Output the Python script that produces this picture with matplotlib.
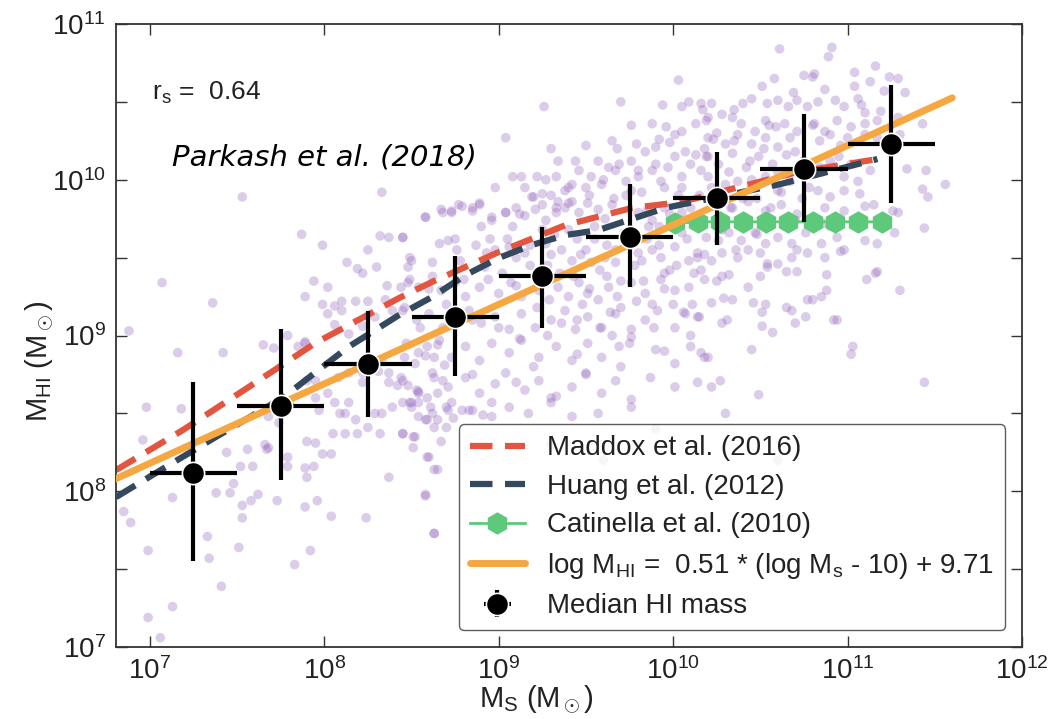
import numpy as np
import matplotlib
matplotlib.use('Agg')
import matplotlib.pyplot as plt
from matplotlib.ticker import LogLocator, FixedLocator, NullFormatter

plt.rcParams['font.family'] = ['Liberation Sans', 'DejaVu Sans']
plt.rcParams['mathtext.fontset'] = 'custom'
plt.rcParams['mathtext.rm'] = 'Liberation Sans'
plt.rcParams['mathtext.it'] = 'Liberation Sans:italic'

# ---- data (log10 values) ----
# median HI mass in stellar-mass bins
med_logms = [7.25, 7.75, 8.25, 8.75, 9.25, 9.75, 10.25, 10.75, 11.25]
med_logmhi = [8.12, 8.55, 8.82, 9.12, 9.38, 9.63, 9.88, 10.07, 10.23]
med_lo = [7.55, 8.07, 8.48, 8.74, 9.05, 9.31, 9.58, 9.73, 9.85]
med_hi = [8.70, 9.04, 9.16, 9.51, 9.70, 9.97, 10.18, 10.42, 10.61]
bin_half = 0.25

# Maddox et al. (2016)
maddox_logms = [6.806, 7.189, 7.566, 7.949, 8.429, 8.617, 9.0, 9.383, 9.76, 10.046, 10.331, 10.714, 11.171]
maddox_logmhi = [8.136, 8.393, 8.669, 8.952, 9.241, 9.344, 9.536, 9.709, 9.818, 9.857, 9.94, 10.05, 10.133]

# Huang et al. (2012)
huang_logms = [6.806, 7.091, 7.377, 7.76, 8.137, 8.429, 8.617, 8.811, 9.0, 9.189, 9.383, 9.571, 9.954, 10.617, 10.903, 11.171]
huang_logmhi = [7.963, 8.156, 8.348, 8.599, 8.926, 9.132, 9.247, 9.389, 9.498, 9.581, 9.645, 9.677, 9.819, 9.973, 10.056, 10.133]

# Catinella et al. (2010)
cat_logms = [10.01, 10.14, 10.27, 10.40, 10.53, 10.66, 10.80, 10.93, 11.06, 11.20]
cat_logmhi = [9.72, 9.73, 9.73, 9.73, 9.73, 9.73, 9.73, 9.73, 9.73, 9.73]

# fit: log MHI = 0.51 * (log Ms - 10) + 9.71
fit_logms = [6.80, 11.60]
fit_logmhi = [8.078, 10.526]

# individual galaxies (log Ms, log MHI)
galaxies = [
    (7.53, 9.89), (8.33, 9.92), (7.87, 9.65), (7.99, 9.58), (8.32, 9.64), (8.37, 9.63), (8.45, 9.63),
    (8.25, 9.55), (8.13, 9.47), (8.19, 9.43), (8.22, 9.40), (8.30, 9.44), (7.94, 9.35), (8.02, 9.31),
    (7.89, 9.25), (7.07, 9.34), (7.36, 9.21), (6.88, 9.03), (8.48, 9.44), (8.49, 9.50), (8.36, 9.32),
    (8.44, 9.31), (8.48, 9.34), (7.99, 9.20), (8.06, 9.19), (8.10, 9.22), (8.18, 9.22), (8.25, 9.22),
    (8.02, 9.14), (8.10, 9.16), (8.14, 9.01), (8.22, 9.06), (8.06, 9.07), (7.89, 8.96), (7.79, 9.00),
    (8.35, 9.23), (8.39, 9.16), (8.29, 9.12), (8.46, 9.18),
    (7.16, 8.89), (7.42, 8.89), (6.98, 8.54), (7.18, 8.53), (6.96, 8.33), (7.44, 8.25), (7.56, 8.27),
    (7.66, 8.30), (7.67, 8.27), (7.52, 8.16), (7.59, 8.16), (7.48, 8.05), (7.38, 7.99), (7.46, 7.99),
    (7.62, 7.98), (7.58, 7.94), (7.13, 7.96), (6.85, 7.87), (6.89, 7.80), (7.53, 7.91), (7.53, 7.83),
    (7.73, 7.94), (7.89, 7.90), (7.96, 7.94), (8.04, 7.84), (8.24, 7.83), (7.33, 7.71), (6.99, 7.62),
    (7.34, 7.57), (7.51, 7.64), (7.92, 7.62), (7.83, 7.53), (7.41, 7.39), (7.13, 7.26), (6.99, 7.19),
    (7.06, 7.06), (8.58, 7.97), (8.63, 7.73), (8.37, 8.09), (8.63, 8.14), (8.59, 8.22),
    (7.90, 8.32), (7.95, 8.31), (7.79, 8.22), (7.79, 8.16), (7.68, 8.28), (7.89, 8.15), (7.90, 8.09),
    (7.94, 8.16), (7.99, 8.24), (8.04, 8.24), (8.05, 8.37), (8.12, 8.37), (8.19, 8.37), (8.25, 8.41),
    (8.32, 8.37), (8.45, 8.37), (8.51, 8.35), (8.51, 8.28), (8.59, 8.46), (8.65, 8.46), (8.18, 8.46),
    (8.12, 8.50), (8.09, 8.50), (8.06, 8.57), (8.14, 8.57), (8.29, 8.50), (8.33, 8.50), (8.39, 8.54),
    (8.45, 8.57), (8.49, 8.57), (8.54, 8.63), (8.59, 8.60), (8.65, 8.63), (8.71, 8.52), (7.95, 8.60),
    (8.02, 8.63), (7.97, 8.52), (7.68, 8.48), (7.74, 8.44), (7.80, 8.57), (7.90, 8.71), (7.95, 8.71),
    (8.08, 8.73), (8.14, 8.76), (8.22, 8.76), (8.31, 8.77), (8.37, 8.76), (8.44, 8.73), (8.48, 8.68),
    (8.54, 8.64), (8.63, 8.73), (8.68, 8.71), (8.37, 8.70), (8.42, 8.68), (8.22, 8.70), (8.33, 8.84),
    (8.46, 8.86), (8.52, 8.82), (8.58, 8.87), (8.63, 8.86), (8.69, 8.81), (8.59, 8.93), (8.65, 8.94),
    (7.65, 8.94), (7.71, 8.92), (7.85, 8.93), (7.89, 8.95),
    # dense core
    (8.58, 9.76), (8.68, 9.79), (8.73, 9.79), (8.77, 9.84), (8.85, 9.82), (8.89, 9.85), (8.96, 9.74),
    (9.04, 9.79), (9.10, 9.82), (9.15, 9.77), (9.21, 9.81), (9.27, 9.74), (9.33, 9.79), (9.38, 9.82),
    (9.46, 9.79), (9.51, 9.85), (9.57, 9.81), (9.65, 9.84), (9.80, 9.79), (9.88, 9.74), (9.95, 9.82),
    (10.05, 9.79), (10.10, 9.82),
    (8.45, 9.63), (8.66, 9.59), (8.71, 9.61), (8.76, 9.55), (8.87, 9.58), (8.93, 9.53), (8.98, 9.55),
    (9.06, 9.57), (9.10, 9.50), (9.15, 9.53), (9.27, 9.59), (9.30, 9.52), (9.36, 9.55), (9.42, 9.48),
    (9.50, 9.55), (9.53, 9.47), (9.61, 9.50), (9.67, 9.47), (9.80, 9.53), (9.88, 9.55), (9.93, 9.50),
    (10.01, 9.57), (10.09, 9.48), (10.14, 9.53), (8.62, 9.47), (8.50, 9.48),
    (8.49, 9.36), (8.54, 9.31), (8.62, 9.38), (8.67, 9.29), (8.75, 9.34), (8.81, 9.25), (8.89, 9.31),
    (8.94, 9.36), (9.00, 9.27), (9.07, 9.34), (9.13, 9.25), (9.23, 9.29), (9.29, 9.23), (9.34, 9.31),
    (9.40, 9.25), (9.46, 9.34), (9.51, 9.27), (9.57, 9.23), (9.63, 9.31), (9.68, 9.25), (9.76, 9.34),
    (9.84, 9.27), (9.93, 9.36), (10.01, 9.29), (10.09, 9.31), (10.18, 9.36),
    (8.45, 9.16), (8.53, 9.10), (8.60, 9.14), (8.68, 9.05), (8.83, 9.16), (8.90, 9.08), (8.98, 9.12),
    (9.06, 9.04), (9.13, 9.14), (9.21, 9.05), (9.30, 9.10), (9.38, 9.16), (9.44, 9.04), (9.51, 9.12),
    (9.59, 9.05), (9.67, 9.14), (9.76, 9.04), (9.84, 9.10), (9.91, 9.16), (10.01, 9.05), (10.07, 9.14),
    (10.14, 9.12),
    (8.47, 8.95), (8.54, 8.89), (8.66, 8.97), (8.73, 8.86), (8.81, 8.93), (8.89, 8.84), (8.96, 8.95),
    (9.06, 8.89), (9.13, 8.97), (9.23, 8.86), (9.33, 8.93), (9.42, 8.84), (9.51, 8.95), (9.59, 8.86),
    (9.69, 8.93), (9.76, 8.99), (9.90, 8.91), (10.01, 8.82), (10.10, 8.93), (10.18, 8.86),
    (8.45, 8.71), (8.53, 8.65), (8.62, 8.76), (8.71, 8.67), (8.81, 8.73), (8.89, 8.63), (8.98, 8.69),
    (9.04, 8.76), (9.15, 8.65), (9.23, 8.71), (9.33, 8.61), (9.42, 8.67), (9.50, 8.76), (9.59, 8.63),
    (9.67, 8.71), (9.76, 8.59), (9.87, 8.73), (10.01, 8.67),
    (8.50, 8.54), (8.62, 8.50), (8.73, 8.57), (8.83, 8.52), (8.96, 8.48), (9.06, 8.54), (9.17, 8.50),
    (9.30, 8.57), (9.42, 8.48), (9.57, 8.50), (9.76, 8.54),
    # upper middle
    (10.03, 10.64), (9.26, 10.47), (9.70, 10.50), (9.94, 10.48), (10.05, 10.47), (10.09, 10.50),
    (10.16, 10.49), (10.17, 10.45), (9.04, 10.27), (9.30, 10.20), (9.34, 10.12), (9.76, 10.35),
    (9.88, 10.36), (9.92, 10.26), (9.96, 10.34), (10.01, 10.29), (10.05, 10.31), (10.13, 10.36),
    (9.65, 10.25), (9.68, 10.20), (9.79, 10.23), (9.84, 10.18), (9.90, 10.21), (9.98, 10.24),
    (10.01, 10.15), (10.07, 10.18), (10.13, 10.16), (10.18, 10.20), (10.23, 10.26), (9.50, 10.22),
    (9.57, 10.12), (9.63, 10.08), (9.69, 10.10), (9.76, 10.12), (9.80, 10.06), (9.44, 10.12),
    (9.46, 10.06), (9.53, 10.02), (9.59, 9.97), (9.33, 10.02), (9.38, 9.93), (9.42, 9.97), (9.50, 9.95),
    (9.08, 10.02), (9.13, 10.02), (9.22, 10.02), (9.27, 10.00), (9.20, 9.89), (9.25, 9.84), (9.30, 9.90),
    (9.34, 9.86), (9.42, 9.86), (9.67, 10.06), (9.73, 9.99), (9.76, 9.93), (9.80, 10.02), (9.88, 10.06),
    (9.93, 9.99), (9.97, 10.08), (10.05, 10.02), (10.10, 10.10), (10.16, 10.06), (10.20, 10.15),
    (8.98, 9.95), (8.67, 9.81), (8.73, 9.80), (8.79, 9.83), (8.85, 9.80), (8.89, 9.84), (8.58, 9.76),
    (8.96, 9.76), (9.04, 9.79), (9.12, 9.78), (9.19, 9.89), (9.25, 9.91), (9.33, 9.82),
    # upper right
    (10.61, 10.84), (10.91, 10.85), (10.89, 10.79), (11.16, 10.73), (10.75, 10.67), (10.81, 10.68),
    (10.80, 10.66), (11.04, 10.69), (11.13, 10.63), (11.24, 10.66), (11.29, 10.65), (10.51, 10.60),
    (10.58, 10.65), (10.69, 10.56), (10.87, 10.58), (11.04, 10.60), (11.21, 10.57), (11.33, 10.56),
    (10.40, 10.49), (10.45, 10.52), (10.54, 10.49), (10.60, 10.51), (10.66, 10.47), (10.71, 10.51),
    (10.77, 10.47), (10.83, 10.50), (10.93, 10.51), (10.98, 10.47), (11.06, 10.52), (11.10, 10.43),
    (11.19, 10.44), (10.22, 10.49), (10.28, 10.42), (10.19, 10.38), (10.34, 10.40),
    (10.39, 10.36), (10.47, 10.31), (10.53, 10.38), (10.59, 10.34), (10.64, 10.36), (10.71, 10.31),
    (10.81, 10.36), (10.87, 10.31), (10.94, 10.38), (11.02, 10.34), (11.10, 10.36), (11.17, 10.38),
    (11.29, 10.40), (11.43, 10.36),
    (10.20, 10.27), (10.30, 10.23), (10.37, 10.29), (10.45, 10.23), (10.53, 10.27), (10.60, 10.21),
    (10.67, 10.27), (10.84, 10.25), (10.90, 10.29), (11.00, 10.27), (11.10, 10.29), (11.17, 10.27),
    (10.19, 10.15), (10.26, 10.10), (10.34, 10.17), (10.42, 10.08), (10.49, 10.15), (10.57, 10.10),
    (10.65, 10.16), (10.84, 10.08), (10.90, 10.12), (10.98, 10.02), (11.06, 9.99), (11.13, 10.06),
    (11.34, 10.07), (11.45, 10.06), (11.30, 10.29),
    (10.20, 10.02), (10.30, 9.97), (10.37, 9.99), (10.45, 9.95), (10.53, 10.02), (10.60, 9.93),
    (10.67, 9.99), (10.83, 9.93), (10.90, 9.89), (10.98, 9.93), (11.07, 9.91), (11.15, 9.84),
    (11.26, 9.80), (11.43, 9.94), (11.46, 9.89), (11.56, 9.97),
    (10.22, 9.84), (10.34, 9.82), (10.43, 9.86), (10.53, 9.80), (10.62, 9.84), (10.71, 9.78),
    (10.87, 9.82), (10.98, 9.80), (11.10, 9.83),
    # lower right
    (11.29, 9.79), (11.27, 9.66), (11.44, 9.69),
    (10.19, 9.63), (10.26, 9.61), (10.32, 9.66), (10.39, 9.61), (10.47, 9.66), (10.53, 9.59),
    (10.60, 9.63), (10.68, 9.59), (10.76, 9.66), (10.85, 9.59), (10.94, 9.63), (10.98, 9.55),
    (11.10, 9.61), (11.17, 9.59),
    (10.14, 9.50), (10.22, 9.48), (10.28, 9.53), (10.37, 9.50), (10.43, 9.55), (10.50, 9.53),
    (10.54, 9.46), (10.60, 9.46), (10.68, 9.50), (10.71, 9.55), (10.77, 9.53), (10.87, 9.50),
    (10.96, 9.54),
    (10.16, 9.42), (10.28, 9.38), (10.32, 9.39), (10.43, 9.31), (10.50, 9.38), (10.54, 9.44),
    (10.65, 9.41), (10.71, 9.41), (10.88, 9.39), (11.11, 9.36), (11.16, 9.40), (11.17, 9.41),
    (11.30, 9.29),
    (10.22, 9.21), (10.29, 9.24), (10.34, 9.23), (10.46, 9.21), (10.51, 9.15), (10.53, 9.20),
    (10.65, 9.18), (10.68, 9.16), (10.77, 9.23), (10.80, 9.23), (10.85, 9.25), (10.88, 9.29),
    (10.92, 9.10), (10.94, 9.10),
    (10.15, 9.12), (10.28, 9.08), (10.31, 9.10), (10.51, 9.06), (10.57, 9.02), (10.70, 9.08),
    (10.76, 9.12),
    (10.16, 8.89), (10.20, 8.86), (10.45, 8.91), (11.03, 8.93), (11.02, 8.88),
    (10.14, 8.70), (10.22, 8.67), (10.27, 8.71), (10.49, 8.62), (11.44, 8.70),
    # below the core, above the legend
    (8.50, 8.57), (8.54, 8.57), (8.61, 8.54), (8.70, 8.54), (8.79, 8.52), (8.85, 8.52), (8.91, 8.49),
    (8.96, 8.57), (8.45, 8.37), (8.52, 8.35), (8.67, 8.32), (8.60, 8.22), (8.65, 8.14), (8.58, 7.98),
    (8.63, 7.73), (8.54, 8.48), (8.58, 8.46), (8.63, 8.41), (8.70, 8.41), (8.74, 8.47),
    # extra core
    (9.45, 9.62), (9.55, 9.70), (9.62, 9.58), (9.72, 9.66), (9.78, 9.45), (9.85, 9.62), (9.92, 9.70),
    (9.98, 9.42), (10.05, 9.66), (10.12, 9.72), (10.03, 9.90), (9.82, 9.92), (9.66, 9.88), (9.52, 9.90),
    (9.40, 9.68), (9.35, 9.40), (9.48, 9.20), (9.62, 9.38), (9.70, 9.18), (9.88, 9.20), (9.95, 9.40),
    (10.06, 9.15), (10.12, 9.40), (9.58, 9.05), (9.75, 8.95), (9.18, 9.45), (9.10, 9.32), (9.25, 9.68),
    (9.05, 9.62), (8.92, 9.44), (8.80, 9.36), (9.28, 9.00), (9.45, 8.88), (9.85, 9.80), (9.95, 9.95),
    (10.15, 9.90), (10.25, 9.75), (10.33, 9.82), (10.40, 9.72), (10.48, 9.88), (10.55, 9.70),
    (10.62, 9.92), (10.70, 9.74), (10.78, 9.95), (10.86, 9.72), (10.95, 10.15), (10.25, 10.30),
    (10.35, 10.45), (10.55, 10.35), (10.75, 10.12), (10.45, 10.00),
    (8.70, 9.20), (8.78, 9.48), (8.85, 9.10), (8.95, 9.62), (9.02, 9.40), (9.08, 9.70), (9.12, 8.98),
    (9.18, 9.58), (9.22, 9.18), (9.28, 9.45), (9.32, 9.65), (9.36, 9.08), (9.40, 9.85), (9.43, 9.38),
    (9.47, 9.52), (9.52, 9.30), (9.55, 9.62), (9.58, 9.42), (9.61, 9.75), (9.64, 9.15), (9.67, 9.55),
    (9.70, 9.35), (9.73, 9.90), (9.76, 9.62), (9.79, 9.22), (9.82, 9.48), (9.86, 9.70), (9.89, 9.05),
    (9.92, 9.58), (9.95, 9.30), (9.98, 9.78), (10.02, 9.45), (10.05, 9.95), (10.08, 9.62),
    (10.11, 9.20), (10.15, 9.75), (10.18, 9.52), (10.22, 9.95), (10.25, 9.35), (10.28, 9.68),
    (10.32, 10.05), (10.36, 9.55), (10.40, 9.88), (10.44, 10.12), (10.48, 9.65), (10.52, 10.20),
    (10.56, 9.82), (10.60, 10.05), (10.65, 9.70), (10.70, 10.18), (10.74, 9.88), (10.80, 10.35),
    (10.85, 10.05), (10.90, 9.70), (10.96, 10.22), (11.02, 10.10), (11.08, 10.48), (9.60, 10.00),
    (9.90, 10.10), (10.20, 10.40), (10.35, 10.25), (9.40, 9.95), (9.15, 9.95), (8.90, 9.70),
    (8.75, 9.62), (8.60, 9.30), (8.55, 9.05), (9.00, 9.05), (9.20, 8.80), (9.50, 8.75), (9.70, 8.80),
    (9.95, 8.90), (10.10, 9.00), (9.30, 8.60), (9.10, 8.70), (8.85, 8.75), (9.45, 9.10), (9.65, 9.00),
    (9.83, 9.35), (10.00, 9.20),
    # hidden behind the legend
    (9.30, 8.30), (9.60, 8.20), (9.90, 8.40), (10.30, 8.50), (10.60, 8.20), (9.80, 8.00),
]

gal_logms = np.array([g[0] for g in galaxies])
gal_logmhi = np.array([g[1] for g in galaxies])

# ---- plot ----
fig = plt.figure(figsize=(10.53, 7.19), dpi=100)
ax = fig.add_axes([0.110, 0.100, 0.8606, 0.8666])

ax.scatter(10**gal_logms, 10**gal_logmhi, s=48, color='#9467bd', alpha=0.33,
           edgecolors='none', zorder=1)

ax.plot(10**np.array(maddox_logms), 10**np.array(maddox_logmhi), color='#e2553f', lw=4.5,
        dashes=(3.6, 2.0), label='Maddox et al. (2016)', zorder=2)
ax.plot(10**np.array(huang_logms), 10**np.array(huang_logmhi), color='#34495e', lw=4.5,
        dashes=(3.6, 2.0), label='Huang et al. (2012)', zorder=3)
ax.plot(10**np.array(cat_logms), 10**np.array(cat_logmhi), color='#5ec97a', lw=2, marker='h',
        ms=15, label='Catinella et al. (2010)', zorder=4)
ax.plot(10**np.array(fit_logms), 10**np.array(fit_logmhi), color='#f5a742', lw=5,
        solid_capstyle='round',
        label=r'log M$_{\rm HI}$ =  0.51 * (log M$_{\rm s}$ - 10) + 9.71', zorder=5)

mx = np.array(med_logms)
my = np.array(med_logmhi)
xerr = [10**mx - 10**(mx - bin_half), 10**(mx + bin_half) - 10**mx]
yerr = [10**my - 10**np.array(med_lo), 10**np.array(med_hi) - 10**my]
ax.errorbar(10**mx, 10**my, xerr=xerr, yerr=yerr, fmt='o', color='black', ms=16,
            mec='white', mew=1.2, elinewidth=3, capsize=0, label='Median HI mass', zorder=6)

ax.set_xscale('log')
ax.set_yscale('log')
ax.set_xlim(10**6.805, 1e12)
ax.set_ylim(1e7, 1e11)

ax.xaxis.set_major_locator(LogLocator(base=10, numticks=10))
ax.xaxis.set_minor_locator(FixedLocator([]))
ax.yaxis.set_major_locator(FixedLocator([1e7, 1e8, 1e9, 1e10, 1e11]))
ax.yaxis.set_minor_locator(FixedLocator([10**7.5, 10**8.5, 10**9.5, 10**10.5]))
ax.yaxis.set_minor_formatter(NullFormatter())

for s in ax.spines.values():
    s.set_color('#333333')
    s.set_linewidth(1.3)
ax.tick_params(which='both', direction='in', length=8, width=1, color='#333333',
               top=True, right=True, labelsize=20, labelcolor='#222222')
ax.tick_params(axis='y', pad=7)
ax.tick_params(axis='x', pad=7)

ax.set_xlabel(r'M$_{\rm S}$ (M$_\odot$)', fontsize=21, color='#222222')
ax.set_ylabel(r'M$_{\rm HI}$ (M$_\odot$)', fontsize=21, color='#222222')
ax.xaxis.set_label_coords(0.464, -0.058)
ax.yaxis.set_label_coords(-0.066, 0.459)

ax.text(0.040, 0.889, r'r$_{\rm s}$ =  0.64', transform=ax.transAxes, fontsize=19,
        color='#222222', va='center', ha='left')
ax.text(0.062, 0.785, 'Parkash et al. (2018)', transform=ax.transAxes, fontsize=21,
        family='DejaVu Sans', fontstyle='oblique', color='black', va='center', ha='left')

leg = ax.legend(loc='lower right', fontsize=20, handlelength=2.0, borderaxespad=0.6,
                labelspacing=0.45, framealpha=0.8, fancybox=True)
leg.get_frame().set_edgecolor('#333333')
leg.get_frame().set_linewidth(1.0)
for t in leg.get_texts():
    t.set_color('#222222')

fig.savefig('out.png', dpi=100)
